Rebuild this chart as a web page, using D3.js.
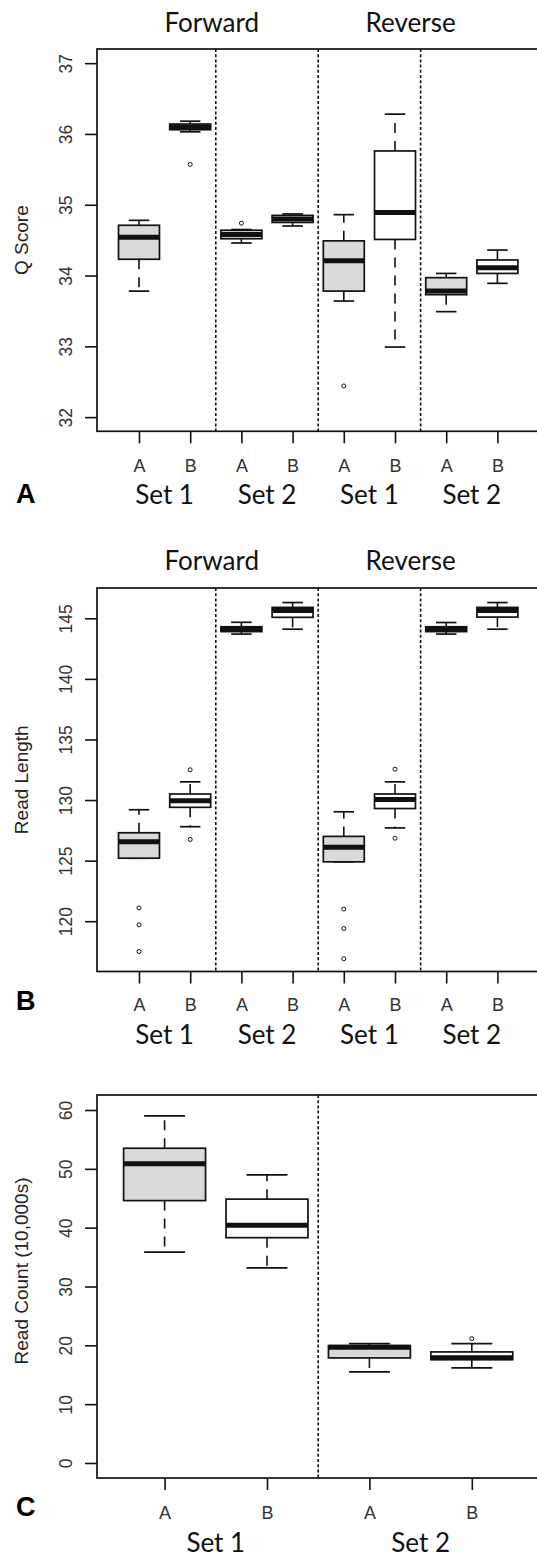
<!DOCTYPE html>
<html>
<head>
<meta charset="utf-8">
<script src="https://d3js.org/d3.v7.min.js"></script>
<style>
  body { margin: 0; background: #fff; }
  svg { display: block; }
</style>
</head>
<body>
<script>

// ---- data ----
// each box: [lower whisker, Q1, median, Q3, upper whisker]
var groups8 = ["A", "B", "A", "B", "A", "B", "A", "B"]
var groups4 = ["A", "B", "A", "B"]
var setNames8 = ["Set 1", "Set 2", "Set 1", "Set 2"]
var setNames4 = ["Set 1", "Set 2"]
var directions = ["Forward", "Reverse"]

var qScoreStats = [
  [33.78, 34.23, 34.54, 34.71, 34.78],
  [36.03, 36.06, 36.10, 36.14, 36.18],
  [34.46, 34.52, 34.58, 34.64, 34.65],
  [34.70, 34.75, 34.80, 34.85, 34.87],
  [33.64, 33.78, 34.21, 34.49, 34.86],
  [32.99, 34.51, 34.89, 35.76, 36.28],
  [33.49, 33.73, 33.78, 33.97, 34.03],
  [33.89, 34.03, 34.11, 34.22, 34.36]
]
var qScoreOutliers = [[], [35.57], [34.74], [], [32.44], [], [], []]
var qScoreTicks = [32, 33, 34, 35, 36, 37]

var readLengthStats = [
  [125.2, 125.2, 126.55, 127.3, 129.2],
  [127.8, 129.4, 129.95, 130.5, 131.5],
  [143.7, 143.9, 144.1, 144.3, 144.67],
  [144.1, 145.08, 145.65, 145.9, 146.3],
  [124.9, 124.9, 126.1, 127.0, 129.03],
  [127.7, 129.3, 130.05, 130.5, 131.5],
  [143.7, 143.9, 144.1, 144.3, 144.65],
  [144.1, 145.1, 145.65, 145.9, 146.3]
]
var readLengthOutliers = [[121.1, 119.7, 117.5], [132.5, 126.75], [], [], [121.0, 119.4, 116.9], [132.55, 126.85], [], []]
var readLengthTicks = [120, 125, 130, 135, 140, 145]

var readCountStats = [
  [35.85, 44.6, 50.85, 53.5, 59.0],
  [33.15, 38.3, 40.4, 44.85, 48.98],
  [15.48, 17.86, 19.66, 19.95, 20.3],
  [16.16, 17.57, 17.9, 18.88, 20.3]
]
var readCountOutliers = [[], [], [], [21.14]]
var readCountTicks = [0, 10, 20, 30, 40, 50, 60]

// ---- layout ----
var width = 537, height = 1559
var left = 97, right = 539.4
var gray = "#d9d9d9"
var ink = "#111"
var titleFont = "Lato, 'Open Sans', sans-serif"
var rFont = "'Liberation Sans', Arial, sans-serif"

var svg = d3.select("body")
  .append("svg")
    .attr("width", width)
    .attr("height", height)

function drawPanel(p) {
  var n = p.stats.length
  var x = d3.scaleLinear()
    .domain([0.5 - 0.04 * n, n + 0.5 + 0.04 * n])
    .range([left, right])
  var y = d3.scaleLinear()
    .domain(p.yDomain)
    .range([p.bottom, p.top])
  var bw = (x(1) - x(0)) * 0.8

  var g = svg.append("g")

  // separators between groups
  p.seps.forEach(function(s) {
    g.append("line")
      .attr("x1", x(s)).attr("x2", x(s))
      .attr("y1", p.top).attr("y2", p.bottom)
      .attr("stroke", ink)
      .attr("stroke-width", 1.6)
      .attr("stroke-dasharray", "3,2.2")
  })

  // y axis
  var ya = g.append("g")
    .attr("transform", "translate(" + left + ",0)")
    .call(d3.axisLeft(y).tickValues(p.yTicks).tickSize(12).tickFormat(d3.format("d")))
  ya.select(".domain").remove()
  ya.selectAll(".tick line").attr("stroke", ink).attr("stroke-width", 1.6)
  ya.selectAll(".tick text")
    .attr("x", null).attr("dy", null)
    .attr("transform", "translate(-25.5,0) rotate(-90)")
    .attr("text-anchor", "middle")
    .attr("font-family", rFont)
    .attr("font-size", 17.5)
    .attr("fill", "#333")

  // x axis
  var xa = g.append("g")
    .attr("transform", "translate(0," + p.bottom + ")")
    .call(d3.axisBottom(x).tickValues(d3.range(1, n + 1)).tickSize(12)
      .tickFormat(function(d, i) { return p.groups[i] }))
  xa.select(".domain").remove()
  xa.selectAll(".tick line").attr("stroke", ink).attr("stroke-width", 1.6)
  xa.selectAll(".tick text")
    .attr("y", p.abY - p.bottom).attr("dy", null)
    .attr("font-family", rFont)
    .attr("font-size", 18)
    .attr("fill", "#333")

  var boxes = p.stats.map(function(s, i) {
    return { pos: i + 1, lo: s[0], q1: s[1], med: s[2], q3: s[3], hi: s[4],
             out: p.outliers[i], fill: p.groups[i] == "A" ? gray : "#fff" }
  })

  var b = g.selectAll("g.box")
    .data(boxes)
    .enter().append("g")
      .attr("class", "box")

  // whiskers
  b.selectAll("line.whisker")
    .data(function(d) { return [[d.pos, d.q3, d.hi], [d.pos, d.q1, d.lo]] })
    .enter().append("line")
      .attr("x1", function(d) { return x(d[0]) })
      .attr("x2", function(d) { return x(d[0]) })
      .attr("y1", function(d) { return y(d[1]) })
      .attr("y2", function(d) { return y(d[2]) })
      .attr("stroke", ink)
      .attr("stroke-width", 1.6)
      .attr("stroke-dasharray", "10,8")

  // staples
  b.selectAll("line.staple")
    .data(function(d) { return [[d.pos, d.hi], [d.pos, d.lo]] })
    .enter().append("line")
      .attr("x1", function(d) { return x(d[0]) - bw / 4 })
      .attr("x2", function(d) { return x(d[0]) + bw / 4 })
      .attr("y1", function(d) { return y(d[1]) })
      .attr("y2", function(d) { return y(d[1]) })
      .attr("stroke", ink)
      .attr("stroke-width", 1.7)

  // box
  b.append("rect")
    .attr("x", function(d) { return x(d.pos) - bw / 2 })
    .attr("width", bw)
    .attr("y", function(d) { return y(d.q3) })
    .attr("height", function(d) { return y(d.q1) - y(d.q3) })
    .attr("fill", function(d) { return d.fill })
    .attr("stroke", ink)
    .attr("stroke-width", 1.7)

  // median
  b.append("line")
    .attr("x1", function(d) { return x(d.pos) - bw / 2 })
    .attr("x2", function(d) { return x(d.pos) + bw / 2 })
    .attr("y1", function(d) { return y(d.med) })
    .attr("y2", function(d) { return y(d.med) })
    .attr("stroke", ink)
    .attr("stroke-width", 5)

  // outliers
  b.selectAll("circle")
    .data(function(d) { return d.out.map(function(v) { return [d.pos, v] }) })
    .enter().append("circle")
      .attr("cx", function(d) { return x(d[0]) })
      .attr("cy", function(d) { return y(d[1]) })
      .attr("r", 2)
      .attr("fill", "none")
      .attr("stroke", ink)
      .attr("stroke-width", 1)

  // frame
  g.append("rect")
    .attr("x", left).attr("y", p.top)
    .attr("width", right - left).attr("height", p.bottom - p.top)
    .attr("fill", "none")
    .attr("stroke", ink)
    .attr("stroke-width", 1.7)

  // y title
  g.append("text")
    .attr("transform", "translate(28," + (p.yTitleY || (p.top + p.bottom) / 2) + ") rotate(-90)")
    .attr("text-anchor", "middle")
    .attr("font-family", rFont)
    .attr("font-size", 19)
    .attr("fill", "#222")
    .text(p.yTitle)

  // set labels, centred under each pair
  g.selectAll("text.set")
    .data(p.sets)
    .enter().append("text")
      .attr("class", "set")
      .attr("x", function(d, i) { return x(2 * i + 1.5) })
      .attr("y", p.setY)
      .attr("text-anchor", "middle")
      .attr("font-family", titleFont)
      .attr("font-size", 26)
      .attr("fill", ink)
      .text(function(d) { return d })

  // Forward / Reverse
  if (p.titles) {
    g.selectAll("text.dir")
      .data(p.titles)
      .enter().append("text")
        .attr("class", "dir")
        .attr("x", function(d, i) { return x(4 * i + 2.5) + p.titleDx[i] })
        .attr("y", p.titleY)
        .attr("text-anchor", "middle")
        .attr("font-family", titleFont)
        .attr("font-size", 26)
        .attr("fill", ink)
        .text(function(d) { return d })
  }

  // panel letter
  g.append("text")
    .attr("x", 16)
    .attr("y", p.letterY)
    .attr("font-family", rFont)
    .attr("font-weight", "bold")
    .attr("font-size", 27)
    .attr("fill", "#000")
    .text(p.letter)
}

drawPanel({
  stats: qScoreStats, outliers: qScoreOutliers, groups: groups8, sets: setNames8,
  titles: directions, titleDx: [-4, -10], titleY: 32.3,
  top: 49, bottom: 431.3, yDomain: [31.8, 37.2], yTicks: qScoreTicks,
  seps: [2.5, 4.5, 6.5], abY: 472.3, setY: 504,
  yTitle: "Q Score", letter: "A", letterY: 503.3
})

drawPanel({
  stats: readLengthStats, outliers: readLengthOutliers, groups: groups8, sets: setNames8,
  titles: directions, titleDx: [-4, -10], titleY: 570,
  top: 588, bottom: 971.5, yDomain: [115.85, 147.5], yTicks: readLengthTicks,
  seps: [2.5, 4.5, 6.5], abY: 1011, setY: 1044,
  yTitle: "Read Length", letter: "B", letterY: 1010
})

drawPanel({
  stats: readCountStats, outliers: readCountOutliers, groups: groups4, sets: setNames4,
  top: 1095, bottom: 1478, yDomain: [-2.55, 62.55], yTicks: readCountTicks,
  seps: [2.5], abY: 1519, setY: 1552,
  yTitle: "Read Count (10,000s)", yTitleY: 1271, letter: "C", letterY: 1516
})

</script>
</body>
</html>
